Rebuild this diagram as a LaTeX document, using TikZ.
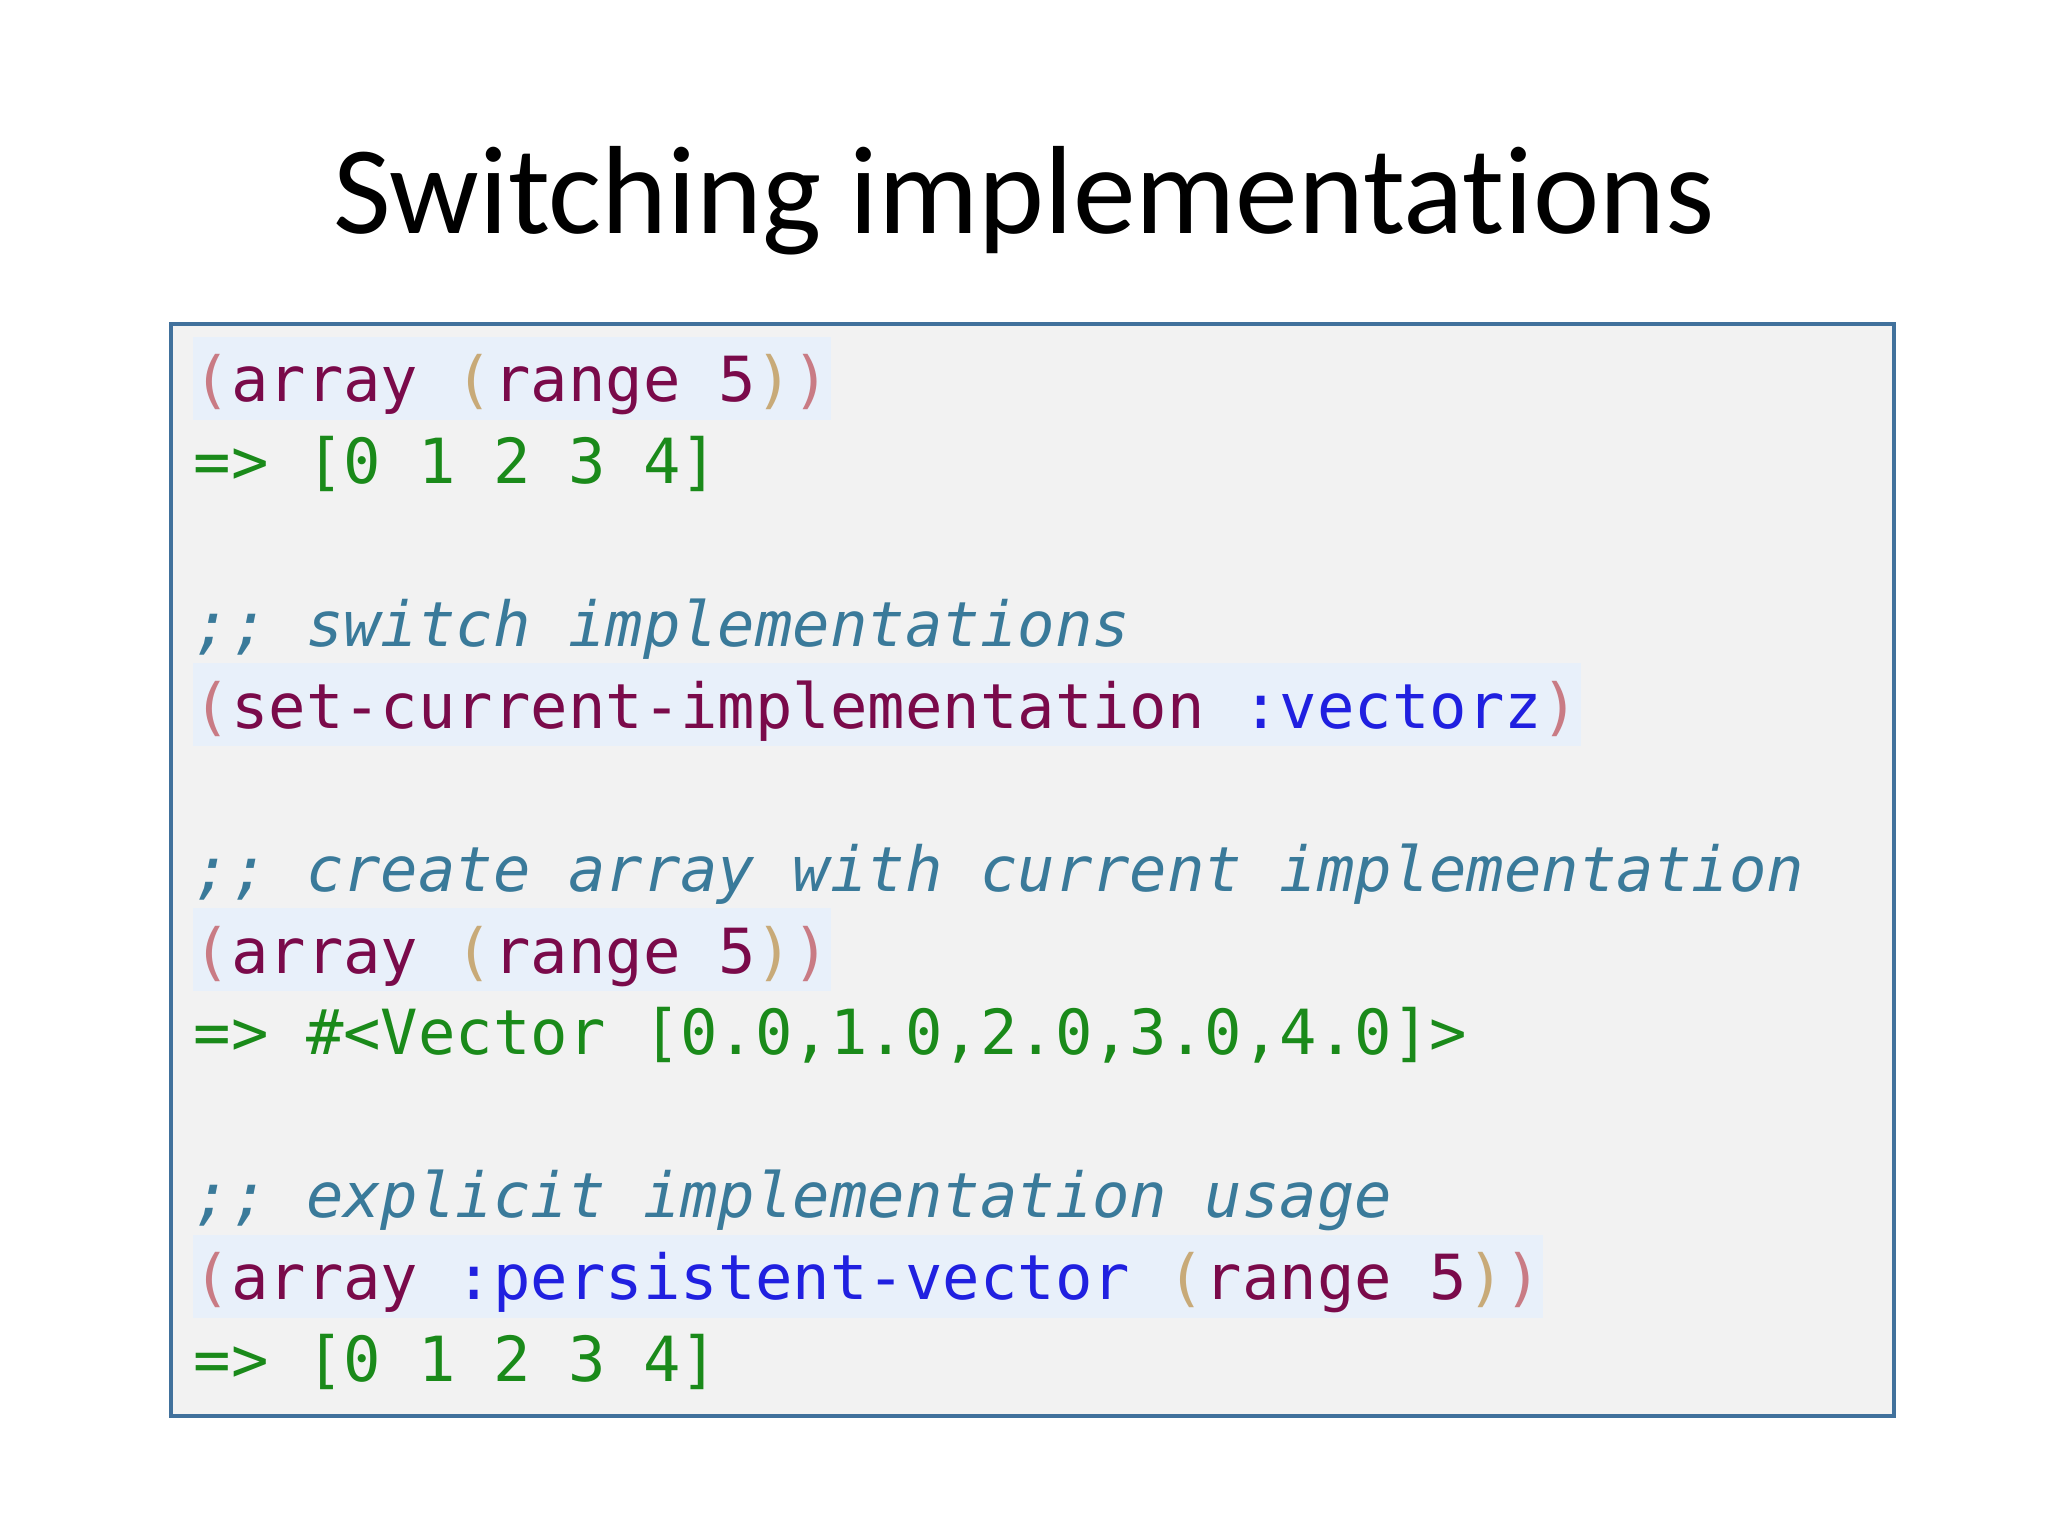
\documentclass[tikz,border=0pt]{standalone}
\usepackage{fontspec}
\setmainfont{Carlito}[Ligatures={NoCommon,NoDiscretionary,NoRare}]
\newfontfamily\codefont{DejaVu Sans Mono}[Scale=1]
\definecolor{boxfill}{HTML}{F2F2F2}
\definecolor{boxline}{HTML}{41719C}
\definecolor{hl}{HTML}{E8F0FA}
\definecolor{pA}{HTML}{C97B84}
\definecolor{pB}{HTML}{C8AA78}
\definecolor{sym}{HTML}{7A0A4A}
\definecolor{res}{HTML}{1A8A1A}
\definecolor{kw}{HTML}{2020E0}
\definecolor{cmt}{HTML}{3A7A9A}
\newcommand{\PA}[1]{\textcolor{pA}{#1}}
\newcommand{\PB}[1]{\textcolor{pB}{#1}}
\newcommand{\SY}[1]{\textcolor{sym}{#1}}
\newcommand{\RS}[1]{\textcolor{res}{#1}}
\newcommand{\KW}[1]{\textcolor{kw}{#1}}
\newcommand{\CM}[1]{\textcolor{cmt}{\itshape #1}}
\tikzset{
 code/.style={anchor=base west,inner sep=0pt,font=\codefont\fontsize{17.7pt}{20pt}\selectfont},
 hlbox/.style={fill=hl,draw=none}
}
\begin{document}
\begin{tikzpicture}[x=1cm,y=1cm]
\useasboundingbox (0,0) rectangle (20.48,15.36);
\node[font=\fontsize{35.7pt}{44pt}\selectfont,anchor=base] (title) at (10.24,13.02) {Switching implementations};
\draw[boxline,fill=boxfill,line width=1pt] (1.71,1.20) rectangle (18.94,12.12);
\def\bx{1.93}
\foreach \k/\n in {0/17,4/37,7/17,11/36}{
  \pgfmathsetmacro{\yb}{15.36-4.02-\k*0.816}
  \fill[hl] (\bx,\yb-0.18) rectangle ({\bx+\n*0.375},\yb+0.65);
}
\node[code] (l0) at (\bx,{15.36-4.02-0*0.816}) {\PA{(}\SY{array} \PB{(}\SY{range 5}\PB{)}\PA{)}};
\node[code] (l1) at (\bx,{15.36-4.02-1*0.816}) {\RS{=> [0 1 2 3 4]}};
\node[code] (l3) at (\bx,{15.36-4.02-3*0.816}) {\CM{;; switch implementations}};
\node[code] (l4) at (\bx,{15.36-4.02-4*0.816}) {\PA{(}\SY{set-current-implementation} \KW{:vectorz}\PA{)}};
\node[code] (l6) at (\bx,{15.36-4.02-6*0.816}) {\CM{;; create array with current implementation}};
\node[code] (l7) at (\bx,{15.36-4.02-7*0.816}) {\PA{(}\SY{array} \PB{(}\SY{range 5}\PB{)}\PA{)}};
\node[code] (l8) at (\bx,{15.36-4.02-8*0.816}) {\RS{=> \#<Vector [0.0,1.0,2.0,3.0,4.0]>}};
\node[code] (l10) at (\bx,{15.36-4.02-10*0.816}) {\CM{;; explicit implementation usage}};
\node[code] (l11) at (\bx,{15.36-4.02-11*0.816}) {\PA{(}\SY{array} \KW{:persistent-vector} \PB{(}\SY{range 5}\PB{)}\PA{)}};
\node[code] (l12) at (\bx,{15.36-4.02-12*0.816}) {\RS{=> [0 1 2 3 4]}};
\end{tikzpicture}
\end{document}
